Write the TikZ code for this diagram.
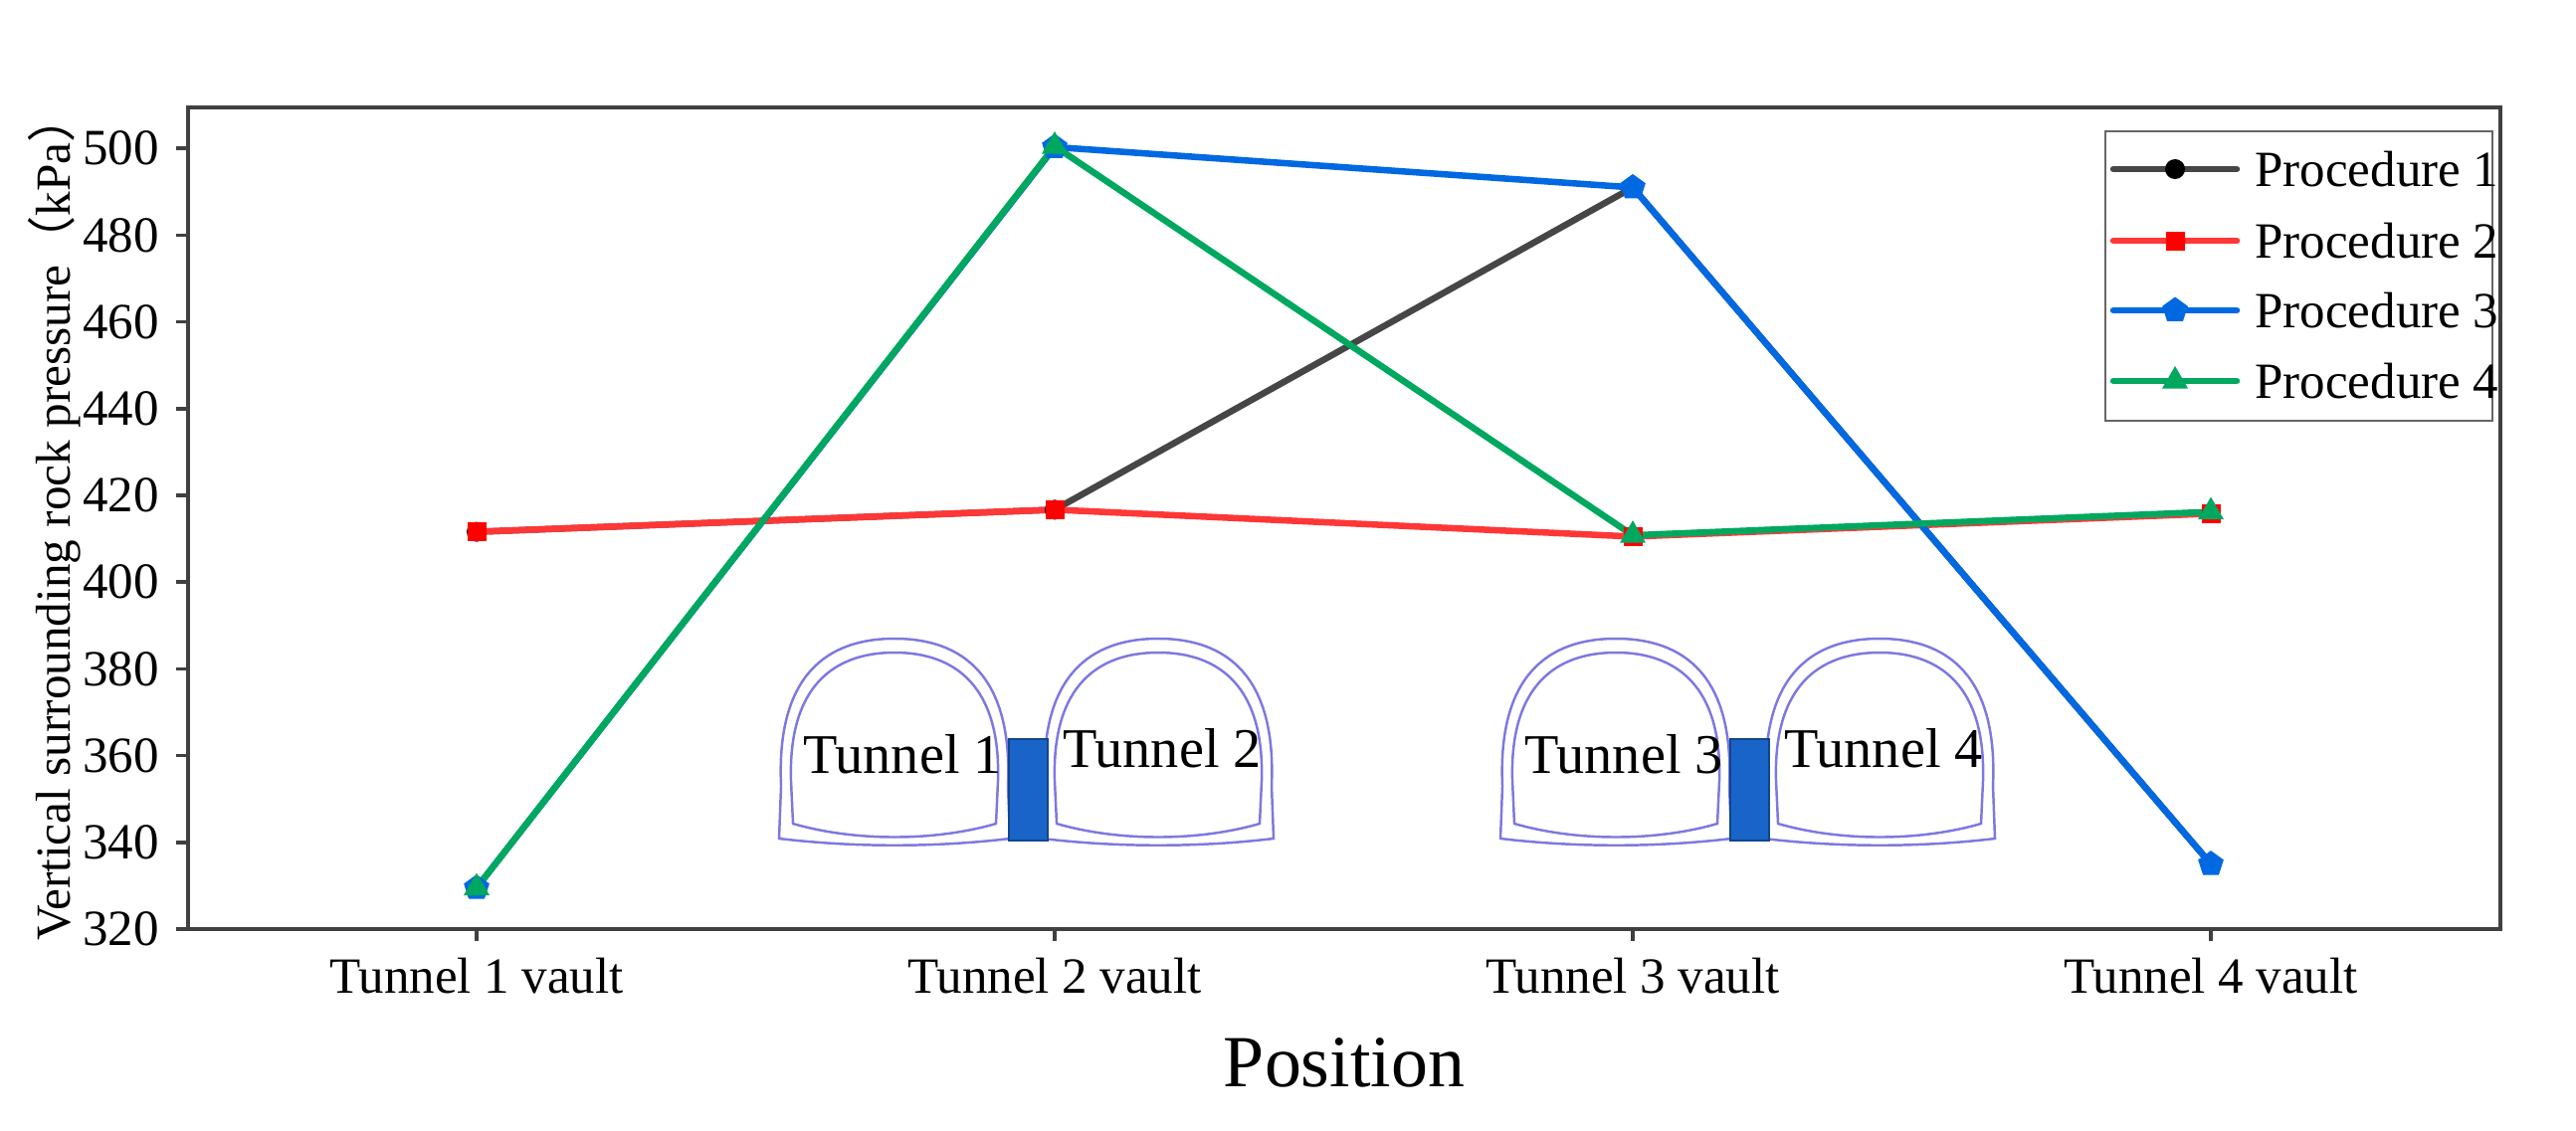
\documentclass[tikz,border=0pt]{standalone}
\usepackage{fontspec}
\setmainfont{Liberation Serif}
\newfontfamily\cjk{Noto Sans CJK SC}
\usetikzlibrary{shapes.geometric}
\definecolor{cBlack}{RGB}{70,70,70}
\definecolor{cRed}{RGB}{255,55,55}
\definecolor{cBlue}{RGB}{0,105,225}
\definecolor{cGreen}{RGB}{0,168,95}
\definecolor{tun}{RGB}{125,120,225}
\definecolor{pil}{RGB}{25,100,200}
\tikzset{
  x=0.01cm,y=-0.01cm,
  ln/.style={line width=1.85pt,line cap=round,line join=round},
  m1/.style={circle,fill=black,inner sep=0,minimum size=0.2cm},
  m2/.style={rectangle,fill=red,inner sep=0,minimum size=0.19cm},
  m3/.style={regular polygon,regular polygon sides=5,fill=cBlue,inner sep=0,minimum size=0.27cm},
  m4/.style={regular polygon,regular polygon sides=3,fill=cGreen,inner sep=0,minimum size=0.3cm},
  tick/.style={font=\fontsize{14.5}{16}\selectfont},
  tl/.style={draw=tun,line width=0.7pt},
  tt/.style={font=\fontsize{16}{18}\selectfont},
  declare function={yy(\v)=934-(\v-320)*4.36;}
}
\begin{document}
\begin{tikzpicture}
\useasboundingbox (0,0) rectangle (2589,1136);
% tunnels
\foreach \dx/\a/\b in {0/1/2,725/3/4}{
\begin{scope}[xshift=\dx*0.01cm]
\draw[tl] (783,843) -- (785,790) .. controls (780,680) and (830,642) .. (899,642) .. controls (968,642) and (1018,680) .. (1013,790) -- (1015,843) .. controls (939,852) and (859,852) .. cycle;
\draw[tl] (797,828) -- (795,785) .. controls (792,690) and (838,656) .. (899,656) .. controls (960,656) and (1006,690) .. (1003,785) -- (1001,828) .. controls (939,846) and (859,846) .. cycle;
\draw[tl] (1048,843) -- (1050,790) .. controls (1045,680) and (1095,642) .. (1164,642) .. controls (1233,642) and (1283,680) .. (1278,790) -- (1280,843) .. controls (1204,852) and (1124,852) .. cycle;
\draw[tl] (1062,828) -- (1060,785) .. controls (1057,690) and (1103,656) .. (1164,656) .. controls (1225,656) and (1271,690) .. (1268,785) -- (1266,828) .. controls (1204,846) and (1124,846) .. cycle;
\draw[fill=pil,draw=pil!70!black,line width=0.6pt] (1014,743) rectangle (1053,845);
\node[tt] (t\a) at (907,758) {Tunnel \a};
\node[tt] (t\b) at (1168,752) {Tunnel \b};
\end{scope}}
% axes
\draw[line width=1pt,draw=black!75] (189,108) rectangle (2513,934);
\foreach \v in {320,340,...,500}{
  \draw[line width=1pt,draw=black!75] (189,{yy(\v)}) -- (177,{yy(\v)});
  \node[tick,anchor=east] (y\v) at (172,{yy(\v)}) {\v};
}
\foreach \i in {1,2,3,4}{
  \draw[line width=1pt,draw=black!75] ({479+581*(\i-1)},934) -- ({479+581*(\i-1)},946);
  \node[tick] (x\i) at ({479+581*(\i-1)},981) {Tunnel \i\ vault};
}
\node[font=\fontsize{21}{23}\selectfont] (xl) at (1351,1068) {Position};
\node[font=\fontsize{14}{16}\selectfont,rotate=90] (yl) at (55,520) {Vertical surrounding rock pressure{\cjk （}kPa{\cjk ）}};
% data coordinates
\foreach \n/\a/\b/\c/\d in {a/411.6/416.7/491/335, b/411.6/416.7/410.5/415.8, c/329.5/500.3/491/335, d/329.5/500.5/410.8/416.2}{
  \coordinate (\n1) at (479,{yy(\a)});
  \coordinate (\n2) at (1060,{yy(\b)});
  \coordinate (\n3) at (1641,{yy(\c)});
  \coordinate (\n4) at (2222,{yy(\d)});
}
\draw[ln,cBlack] (a1) -- (a2) -- (a3) -- (a4);
\draw[ln,cRed] (b1) -- (b2) -- (b3) -- (b4);
\draw[ln,cBlue] (c1) -- (c2) -- (c3) -- (c4);
\draw[ln,cGreen] (d1) -- (d2) -- (d3) -- (d4);
\foreach \i in {1,2,3,4}{
  \node[m1] (ma\i) at (a\i) {};
  \node[m2] (mb\i) at (b\i) {};
  \node[m3] (mc\i) at (c\i) {};
  \node[m4] (md\i) at (d\i) {};
}
% legend
\draw[line width=0.8pt,draw=black!60,fill=white] (2116,132) rectangle (2505,423);
\foreach \k/\col/\m/\yy in {1/cBlack/m1/170,2/cRed/m2/242,3/cBlue/m3/312,4/cGreen/m4/383}{
  \coordinate (la\k) at (2124,\yy);
  \coordinate (lb\k) at (2248,\yy);
  \draw[ln,\col] (la\k) -- (lb\k);
  \node[\m] (lm\k) at (2186,\yy) {};
  \node[anchor=west,font=\fontsize{14.5}{16}\selectfont] (lt\k) at (2254,\yy) {Procedure \k};
}
\end{tikzpicture}
\end{document}
